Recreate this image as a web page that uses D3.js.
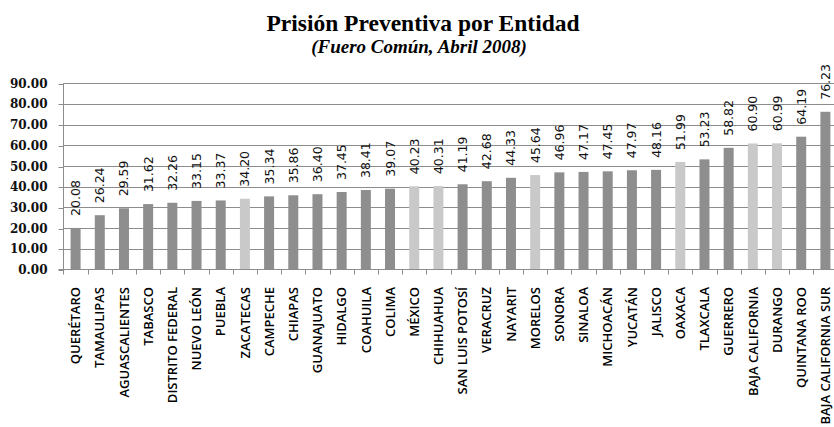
<!DOCTYPE html>
<html><head><meta charset="utf-8">
<script src="https://cdn.jsdelivr.net/npm/d3@7"></script>
<style>body{margin:0;background:#fff}svg{display:block}</style>
</head><body>
<svg id="c" width="834" height="427"></svg>
<script>
const titleText = "Prisión Preventiva por Entidad";
const subtitleText = "(Fuero Común, Abril 2008)";
const categories = ["QUERÉTARO","TAMAULIPAS","AGUASCALIENTES","TABASCO","DISTRITO FEDERAL","NUEVO LEÓN","PUEBLA","ZACATECAS","CAMPECHE","CHIAPAS","GUANAJUATO","HIDALGO","COAHUILA","COLIMA","MÉXICO","CHIHUAHUA","SAN LUIS POTOSÍ","VERACRUZ","NAYARIT","MORELOS","SONORA","SINALOA","MICHOACÁN","YUCATÁN","JALISCO","OAXACA","TLAXCALA","GUERRERO","BAJA CALIFORNIA","DURANGO","QUINTANA ROO","BAJA CALIFORNIA SUR"];
const values = [20.08,26.24,29.59,31.62,32.26,33.15,33.37,34.20,35.34,35.86,36.40,37.45,38.41,39.07,40.23,40.31,41.19,42.68,44.33,45.64,46.96,47.17,47.45,47.97,48.16,51.99,53.23,58.82,60.90,60.99,64.19,76.23];
const highlighted = ["ZACATECAS","MÉXICO","CHIHUAHUA","MORELOS","OAXACA","BAJA CALIFORNIA","DURANGO"];
const yTicks = [0,10,20,30,40,50,60,70,80,90];

const svg = d3.select("#c");
const L = 63.5, R = 837.5, T = 83.3, B = 269.5;
const x = d3.scaleBand().domain(categories).range([L, R]).paddingInner(0.587).paddingOuter(0.2935);
const xb = d3.scaleBand().domain(categories).range([L, R]);
const y = d3.scaleLinear().domain([0, 90]).range([B, T]);

// gridlines
svg.append("g").selectAll("line").data(yTicks.filter(d => d > 0)).join("line")
  .attr("x1", L).attr("x2", 834)
  .attr("y1", d => Math.round(y(d)) + 0.5).attr("y2", d => Math.round(y(d)) + 0.5)
  .attr("stroke", "#8c8c8c").attr("stroke-width", 1);

// bars
svg.append("g").selectAll("rect").data(categories).join("rect")
  .attr("x", d => x(d)).attr("width", x.bandwidth())
  .attr("y", (d, i) => y(values[i])).attr("height", (d, i) => B - y(values[i]))
  .attr("fill", d => highlighted.includes(d) ? "#c9c9c9" : "#8e8e8e");

// y axis
const ya = svg.append("g").attr("transform", `translate(${L},0)`)
  .call(d3.axisLeft(y).tickValues(yTicks).tickSize(5).tickPadding(11).tickFormat(d3.format(".2f")));
ya.select(".domain").attr("stroke", "#8c8c8c").attr("d", `M-5,${B}H0V${T}M0,${B}V${B+5}`);
ya.selectAll(".tick line").attr("stroke", "#8c8c8c");
ya.selectAll(".tick text").attr("fill", "#111").style("font-family", "'DejaVu Serif', serif")
  .style("font-weight", "bold").style("font-size", "12px");
ya.selectAll(".tick").each(function(){ const t=d3.select(this); const tr=t.attr("transform"); const m=/translate\(([^,]+),([^)]+)\)/.exec(tr); t.attr("transform",`translate(0,${Math.round(+m[2])+0.5})`); });

// x axis line and ticks at band boundaries
svg.append("line").attr("x1", L).attr("x2", 834).attr("y1", B).attr("y2", B).attr("stroke", "#8c8c8c");
svg.append("g").selectAll("line").data(categories.slice(1)).join("line")
  .attr("x1", d => Math.round(xb(d)) + 0.5).attr("x2", d => Math.round(xb(d)) + 0.5)
  .attr("y1", B).attr("y2", B + 5).attr("stroke", "#8c8c8c");

// category labels
svg.append("g").selectAll("text").data(categories).join("text")
  .attr("transform", d => `translate(${x(d) + x.bandwidth()/2},287) rotate(-90)`)
  .attr("text-anchor", "end").attr("dy", "0.36em")
  .style("font-family", "'Open Sans', sans-serif").style("font-weight", "600").style("font-size", "13px").attr("fill", "#000")
  .text(d => d);

// value labels
svg.append("g").selectAll("text").data(categories).join("text")
  .attr("transform", (d, i) => `translate(${x(d) + x.bandwidth()/2},${y(values[i]) - 12}) rotate(-90)`)
  .attr("text-anchor", "start").attr("dy", "0.36em")
  .style("font-family", "'DejaVu Sans', sans-serif").style("font-size", "12.5px").attr("fill", "#111")
  .text((d, i) => values[i].toFixed(2));

// titles
svg.append("text").attr("x", 423).attr("y", 31).attr("text-anchor", "middle")
  .style("font-family", "'Liberation Serif', serif").style("font-weight", "bold").style("font-size", "23.5px")
  .attr("fill", "#000").text(titleText);
svg.append("text").attr("x", 419).attr("y", 53).attr("text-anchor", "middle")
  .style("font-family", "'Liberation Serif', serif").style("font-weight", "bold").style("font-style", "italic").style("font-size", "19px")
  .attr("fill", "#000").text(subtitleText);
</script>
</body></html>
